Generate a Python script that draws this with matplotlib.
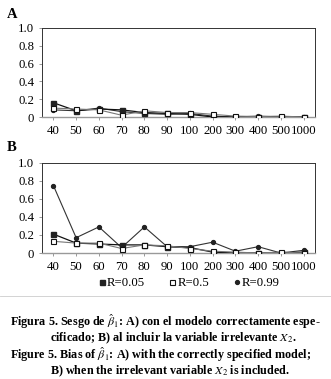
import matplotlib
matplotlib.use("Agg")
import matplotlib.pyplot as plt
import numpy as np

categories = ["40", "50", "60", "70", "80", "90", "100", "200", "300", "400", "500", "1000"]

a_r005 = [0.16, 0.07, 0.09, 0.08, 0.05, 0.04, 0.03, 0.00, 0.00, 0.00, 0.00, 0.00]
a_r05 = [0.10, 0.09, 0.08, 0.02, 0.07, 0.05, 0.05, 0.03, 0.01, 0.005, 0.01, 0.00]
a_r099 = [0.08, 0.07, 0.10, 0.06, 0.04, 0.03, 0.04, 0.01, 0.00, 0.01, 0.00, 0.00]

b_r005 = [0.21, 0.11, 0.10, 0.09, 0.09, 0.07, 0.06, 0.01, 0.00, 0.00, 0.00, 0.01]
b_r05 = [0.13, 0.11, 0.11, 0.05, 0.09, 0.08, 0.05, 0.02, 0.01, 0.00, 0.01, 0.00]
b_r099 = [0.75, 0.17, 0.29, 0.06, 0.29, 0.07, 0.07, 0.12, 0.02, 0.07, 0.00, 0.03]

yticks = [0, 0.2, 0.4, 0.6, 0.8, 1.0]
yticklabels = ["0", "0.2", "0.4", "0.6", "0.8", "1.0"]
series_labels = ["R=0.05", "R=0.5", "R=0.99"]

plt.rcParams["font.family"] = ["Liberation Serif", "DejaVu Serif"]
plt.rcParams["mathtext.fontset"] = "stix"

W, H = 331, 379
fig = plt.figure(figsize=(W / 100, H / 100), dpi=100)

def make_ax(top, bottom):
    left, right = 42, 315
    return fig.add_axes([left / W, 1 - bottom / H, (right - left) / W, (bottom - top) / H])

axA = make_ax(28, 117)
axB = make_ax(163, 253)

x = np.arange(len(categories))
TFS = 9.2

def draw(ax, r005, r05, r099):
    ax.plot(x, r099, color="#333333", lw=0.8, marker="o", ms=2.8, mfc="#222222", mec="#222222", zorder=3)
    ax.plot(x, r05, color="#777777", lw=0.8, marker="s", ms=3.6, mfc="white", mec="#111111", mew=0.8, zorder=4)
    ax.plot(x, r005, color="#111111", lw=0.9, marker="s", ms=3.6, mfc="#222222", mec="#222222", zorder=3)
    ax.set_xlim(-0.5, len(categories) - 0.5)
    ax.set_ylim(0, 1.0)
    ax.set_yticks(yticks)
    ax.set_yticklabels(yticklabels)
    ax.set_xticks(x)
    ax.set_xticklabels(categories)
    ax.tick_params(axis="both", labelsize=TFS, length=2.5, width=0.6, color="#888888", pad=3)
    for s in ["left", "top", "right"]:
        ax.spines[s].set_color("#333333")
        ax.spines[s].set_linewidth(0.7)
    ax.spines["bottom"].set_color("#999999")
    ax.spines["bottom"].set_linewidth(1.0)

draw(axA, a_r005, a_r05, a_r099)
draw(axB, b_r005, b_r05, b_r099)

fig.text(7 / W, 1 - 14 / H, "A", fontsize=10.5, fontweight="bold", va="center")
fig.text(7 / W, 1 - 148 / H, "B", fontsize=10.5, fontweight="bold", va="center")

# legend
leg_y = 1 - 283 / H
handles = [
    plt.Line2D([], [], ls="none", marker="s", ms=3.6, mfc="#222222", mec="#222222"),
    plt.Line2D([], [], ls="none", marker="s", ms=3.6, mfc="white", mec="#111111", mew=0.8),
    plt.Line2D([], [], ls="none", marker="o", ms=2.8, mfc="#222222", mec="#222222"),
]
fig.legend(handles, series_labels, loc="center", bbox_to_anchor=(189 / W, leg_y),
           ncol=3, frameon=False, fontsize=TFS, handlelength=0.5, handletextpad=0.15,
           columnspacing=1.9, borderpad=0)

# thin rule above caption
fig.add_artist(plt.Line2D([0, 1], [1 - 296 / H, 1 - 296 / H], color="#cccccc", lw=0.6))

cap_x = 10 / W
indent = 50 / W
fs = 8.7
lines = [
    (cap_x, 322, r"Figura 5. Sesgo de $\hat{\beta}_1$: A) con el modelo correctamente espe-"),
    (indent, 338, r"cificado; B) al incluir la variable irrelevante $X_2$."),
    (cap_x, 355, r"Figure 5. Bias of $\hat{\beta}_1$: A) with the correctly specified model;"),
    (indent, 371, r"B) when the irrelevant variable $X_2$ is included."),
]
for xx, yy, t in lines:
    fig.text(xx, 1 - yy / H, t, fontsize=fs, fontweight="bold", va="center")

fig.savefig("out.png", dpi=100, facecolor="white")
